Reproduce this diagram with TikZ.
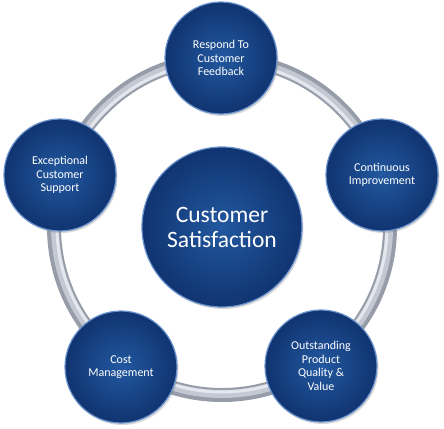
\documentclass[tikz,border=0pt]{standalone}
\usepackage{fontspec}
\setmainfont{Carlito}
\usepackage{tikz}
\usetikzlibrary{shadows}
\definecolor{ballin}{RGB}{34,88,160}
\definecolor{ballout}{RGB}{16,52,112}
\definecolor{ballrim}{RGB}{105,145,205}
\definecolor{ringdark}{RGB}{150,156,168}
\definecolor{ringmid}{RGB}{196,200,210}
\definecolor{ringlight}{RGB}{228,231,238}
\tikzstyle{ball}=
[circle,
inner sep=0pt,
align=center,
text=white,
inner color=ballin,
outer color=ballout,
draw=ballrim,
line width=1.2pt,
drop shadow={shadow xshift=1.5pt,shadow yshift=-2pt,opacity=0.3}]
\tikzstyle{small}=
[ball,
minimum size=112pt,
font=\fontsize{12}{13.5}\selectfont]

\begin{document}
\begin{tikzpicture}[x=1pt,y=-1pt]
\useasboundingbox (0,0) rectangle (444,428);
\coordinate (O) at (222,227);
% ring behind the outer circles
\draw[ringdark,line width=14pt] (O) circle (168pt);
\draw[ringmid,line width=8pt] (O) circle (167pt);
\draw[ringlight,line width=3pt] (O) circle (165pt);
\node (A)
[ball,
minimum size=160pt,
font=\fontsize{23.5}{25}\selectfont]
at (O)
{Customer\\Satisfaction};
\node (B_1)
[small]
at (221,58)
{Respond To\\Customer\\Feedback};
\node (B_2)
[small]
at (382,175)
{Continuous\\Improvement};
\node (B_3)
[small]
at (321,366)
{Outstanding\\Product\\Quality \&\\Value};
\node (B_4)
[small]
at (121,367)
{Cost\\Management};
\node (B_5)
[small]
at (60,175)
{Exceptional\\Customer\\Support};
\end{tikzpicture}
\end{document}
